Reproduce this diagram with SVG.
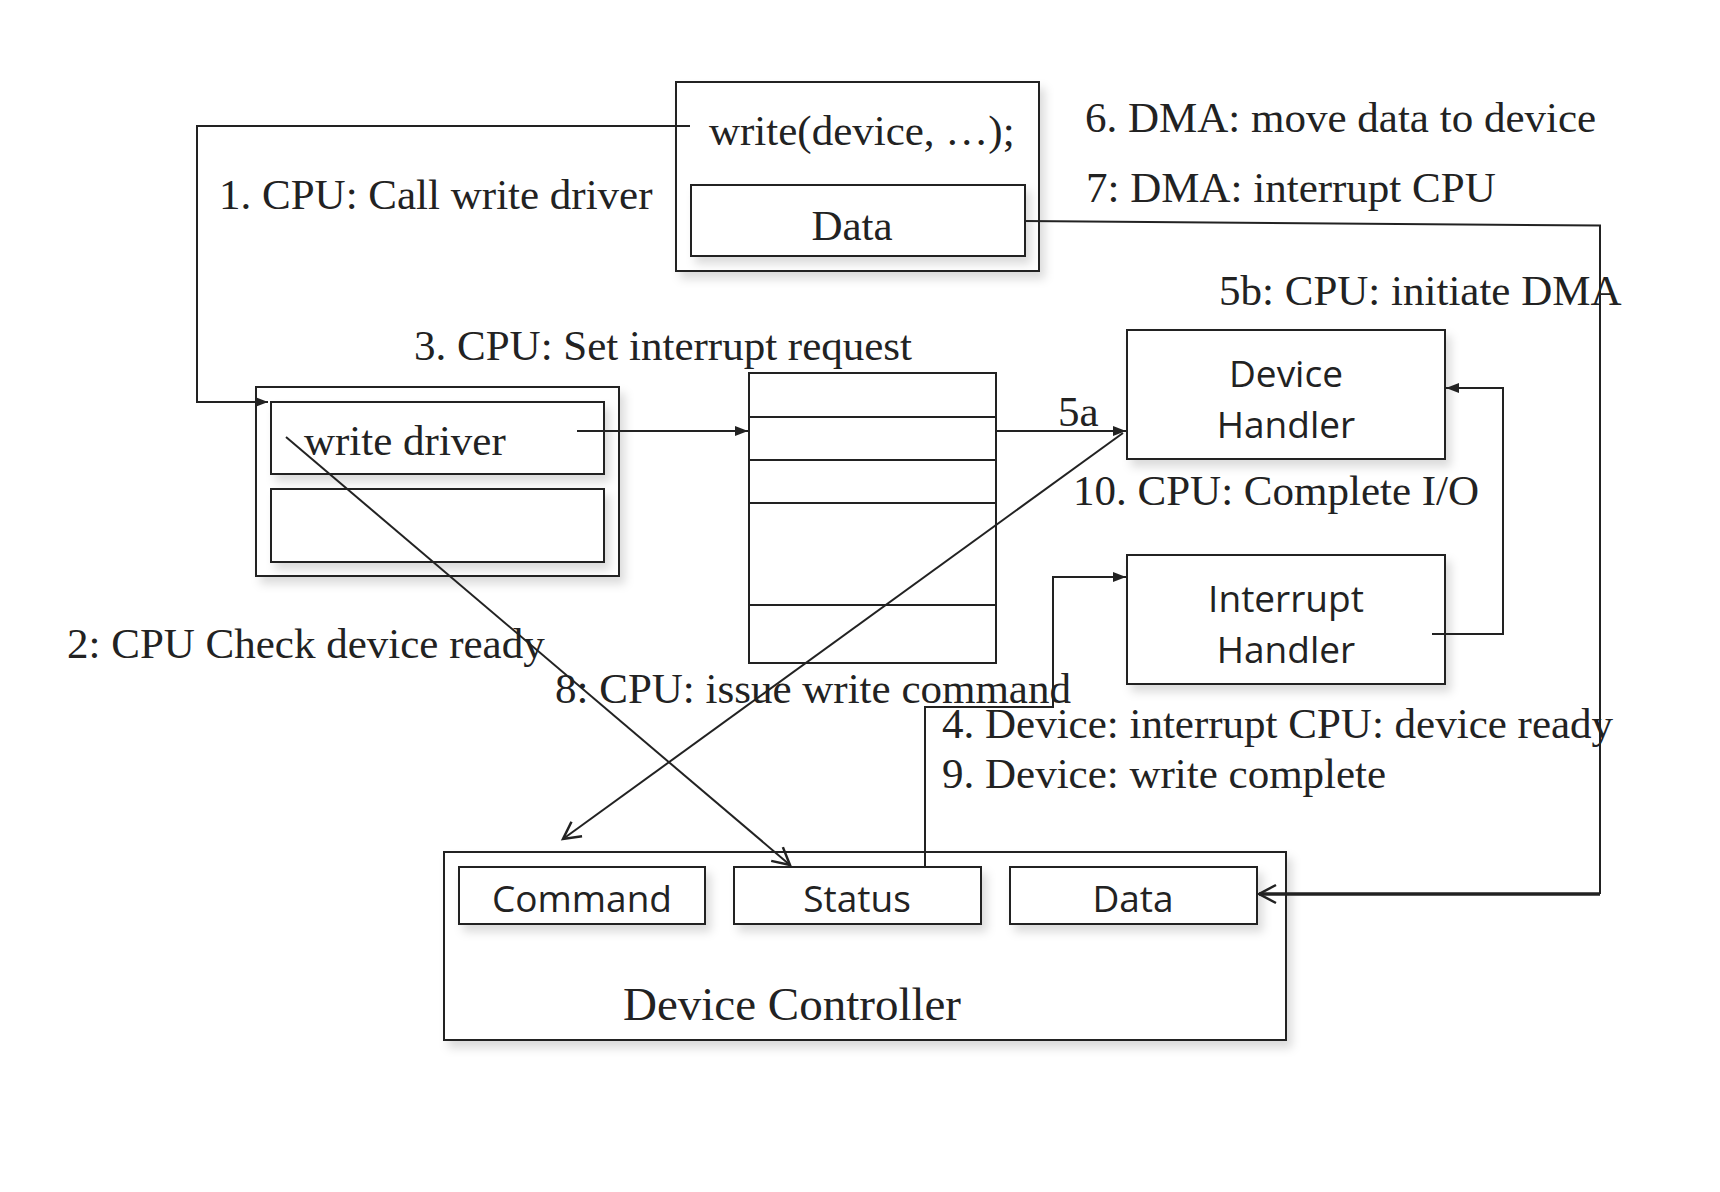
<svg xmlns="http://www.w3.org/2000/svg" width="1720" height="1192" viewBox="0 0 1720 1192">
<style>
.box{fill:#fff;stroke:#222;stroke-width:2;filter:url(#sh)}
.plain{fill:#fff;stroke:#222;stroke-width:2}
.ln{fill:none;stroke:#222;stroke-width:2}
.serif{font-family:"Liberation Serif","Times New Roman",serif;font-size:43px;fill:#222}
.sans{font-family:"Open Sans","Liberation Sans",sans-serif;font-size:37px;fill:#222;text-anchor:middle}
</style>
<defs>
<filter id="sh" x="-10%" y="-10%" width="130%" height="140%">
<feDropShadow dx="5" dy="7" stdDeviation="5" flood-color="#000" flood-opacity="0.14"/>
</filter>
<marker id="fa" markerUnits="userSpaceOnUse" markerWidth="14" markerHeight="12" refX="13" refY="6" orient="auto">
<path d="M0,1 L13,6 L0,11 Z" fill="#222"/>
</marker>
<marker id="oa" markerUnits="userSpaceOnUse" markerWidth="24" markerHeight="24" refX="20" refY="12" orient="auto">
<path d="M3,3 L20,12 L3,21" fill="none" stroke="#222" stroke-width="2.5"/>
</marker>
</defs>
<rect width="1720" height="1192" fill="#fff"/>

<g id="write-call">
<rect class="box" x="676" y="82" width="363" height="189"/>
<text class="serif" x="709" y="145">write(device, …);</text>
<rect class="box" x="691" y="185" width="334" height="71"/>
<text class="serif" x="852" y="240" text-anchor="middle">Data</text>
</g>

<g id="write-driver">
<rect class="box" x="256" y="387" width="363" height="189"/>
<rect class="box" x="271" y="402" width="333" height="72"/>
<rect class="box" x="271" y="489" width="333" height="73"/>
<text class="serif" x="304" y="455">write driver</text>
</g>

<g id="interrupt-table">
<rect class="plain" x="749" y="373" width="247" height="290"/>
<path class="ln" d="M749,417 H996 M749,460 H996 M749,503 H996 M749,605 H996"/>
</g>

<g id="device-handler">
<rect class="box" x="1127" y="330" width="318" height="129"/>
<text class="sans" x="1286" y="387">Device</text>
<text class="sans" x="1286" y="438">Handler</text>
</g>

<g id="interrupt-handler">
<rect class="box" x="1127" y="555" width="318" height="129"/>
<text class="sans" x="1286" y="612">Interrupt</text>
<text class="sans" x="1286" y="663">Handler</text>
</g>

<g id="device-controller">
<rect class="box" x="444" y="852" width="842" height="188"/>
<rect class="box" x="459" y="867" width="246" height="57"/>
<text class="sans" x="582" y="912">Command</text>
<rect class="box" x="734" y="867" width="247" height="57"/>
<text class="sans" x="857" y="912">Status</text>
<rect class="box" x="1010" y="867" width="247" height="57"/>
<text class="sans" x="1133" y="912">Data</text>
<text class="serif" x="623" y="1020" style="font-size:47px">Device Controller</text>
</g>

<g id="connectors">
<path class="ln" d="M690,126 H197 V402 H268" marker-end="url(#fa)"/>
<path class="ln" d="M577,431 H748" marker-end="url(#fa)"/>
<path class="ln" d="M996,431 H1126" marker-end="url(#fa)"/>
<path class="ln" d="M1123,433 L563,839" marker-end="url(#oa)"/>
<path class="ln" d="M286,437 L790,865" marker-end="url(#oa)"/>
<path class="ln" d="M1432,634 H1503 V388 H1446" marker-end="url(#fa)"/>
<path class="ln" d="M925,866 V707 H1053 V577 H1126" marker-end="url(#fa)"/>
<path class="ln" d="M1024,221 L1600,225.5 V894"/>
<path class="ln" style="stroke-width:3.5" d="M1600,894 H1259" marker-end="url(#oa)"/>
</g>

<g id="labels">
<text class="serif" x="219" y="209">1. CPU: Call write driver</text>
<text class="serif" x="1085" y="132">6. DMA: move data to device</text>
<text class="serif" x="1086" y="202">7: DMA: interrupt CPU</text>
<text class="serif" x="1219" y="305">5b: CPU: initiate DMA</text>
<text class="serif" x="414" y="360">3. CPU: Set interrupt request</text>
<text class="serif" x="1058" y="426">5a</text>
<text class="serif" x="1073" y="505">10. CPU: Complete I/O</text>
<text class="serif" x="67" y="658">2: CPU Check device ready</text>
<text class="serif" x="555" y="703">8: CPU: issue write command</text>
<text class="serif" x="942" y="738">4. Device: interrupt CPU: device ready</text>
<text class="serif" x="942" y="788">9. Device: write complete</text>
</g>
</svg>
